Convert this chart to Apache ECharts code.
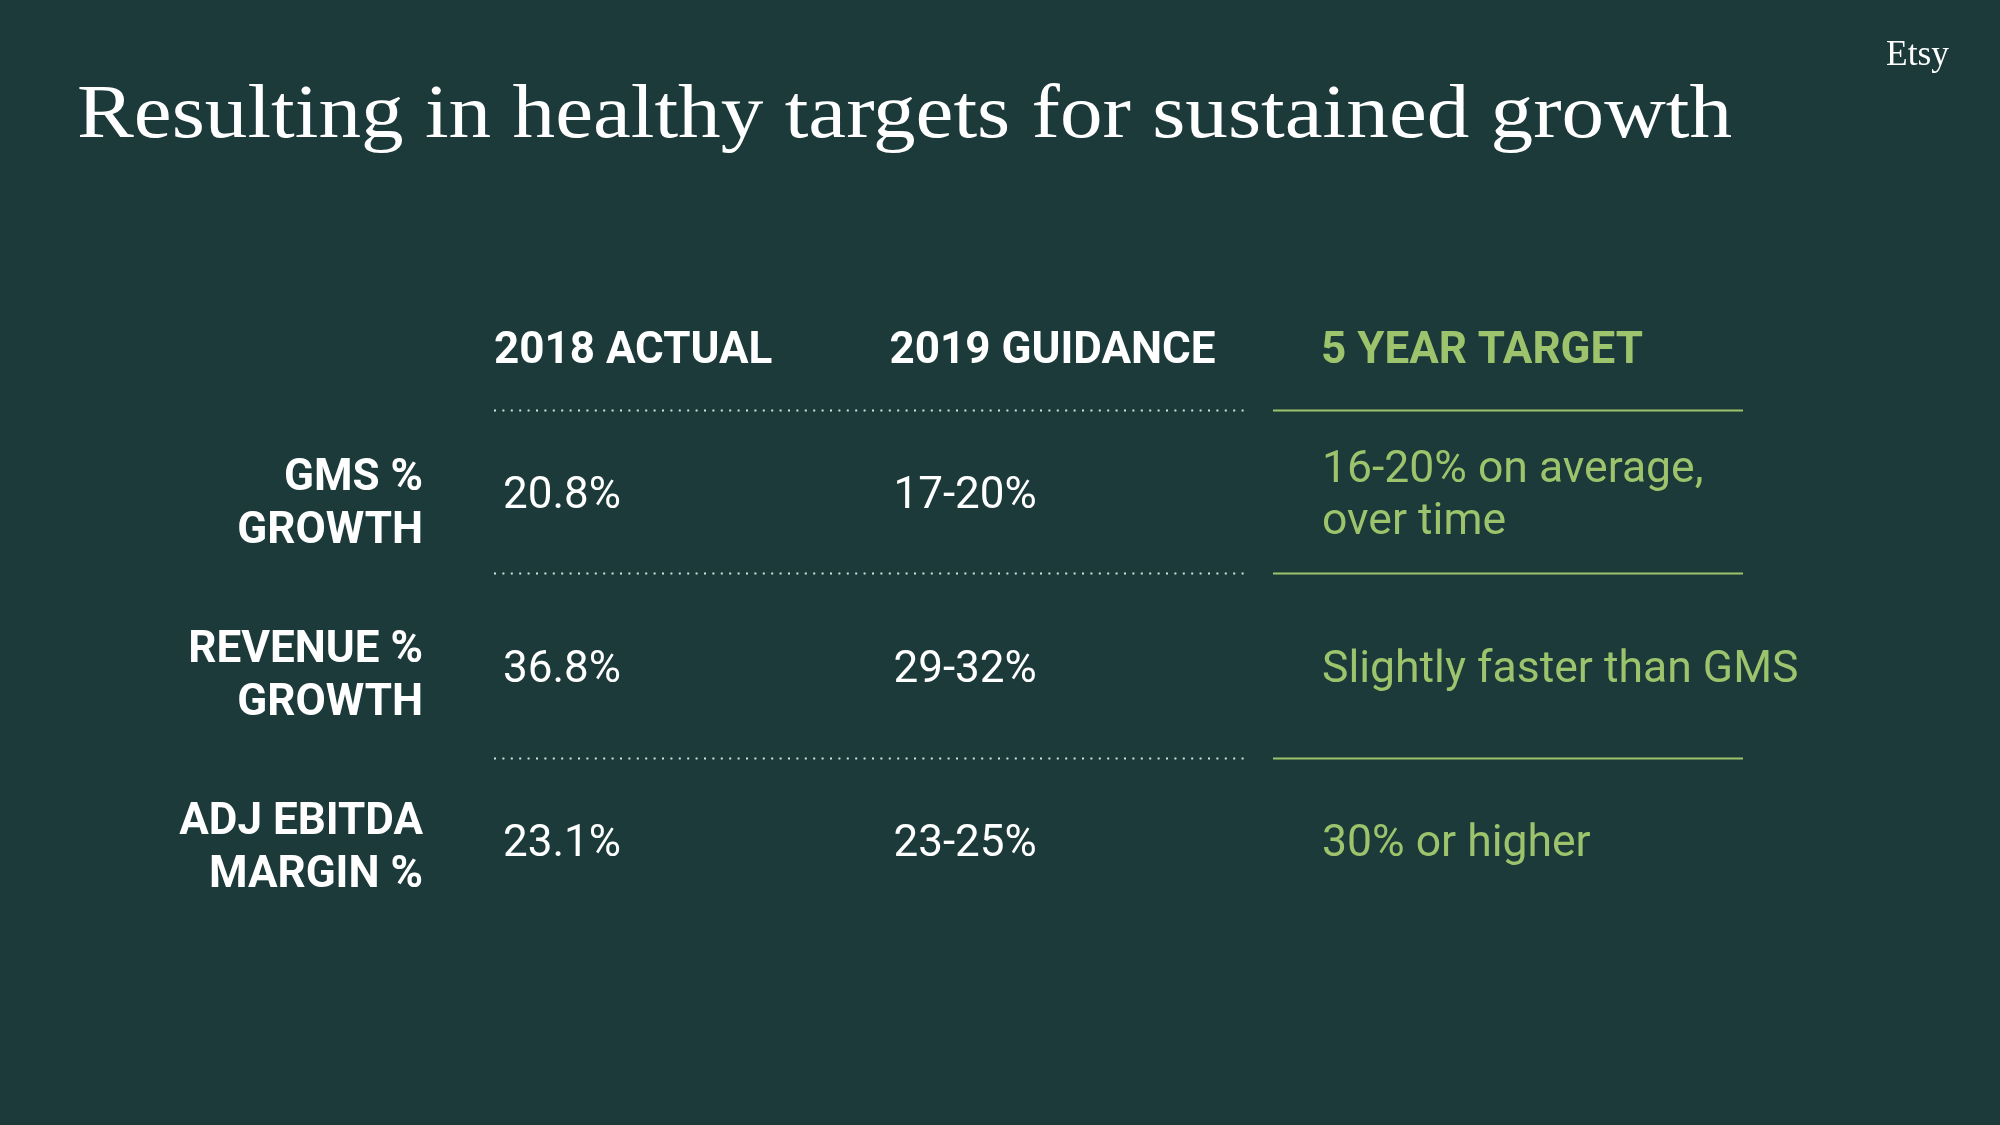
<!DOCTYPE html>
<html>
<head>
<meta charset="utf-8">
<script src="https://cdn.jsdelivr.net/npm/echarts@6/dist/echarts.min.js"></script>
<style>
  html, body { margin: 0; padding: 0; background: #1b3a39; }
  #chart { width: 2000px; height: 1125px; }
</style>
</head>
<body>
<div id="chart"></div>
<script>
// ---- data ----
const titleText = 'Resulting in healthy targets for sustained growth';
const brandText = 'Etsy';
const columns = ['2018 ACTUAL', '2019 GUIDANCE', '5 YEAR TARGET'];
const metrics = ['GMS %\nGROWTH', 'REVENUE %\nGROWTH', 'ADJ EBITDA\nMARGIN %'];
const actual2018 = ['20.8%', '36.8%', '23.1%'];
const guidance2019 = ['17-20%', '29-32%', '23-25%'];
const fiveYearTarget = ['16-20% on average,\nover time', 'Slightly faster than GMS', '30% or higher'];

// ---- styles ----
const BG = '#1b3a39';
const WHITE = '#ffffff';
const GREEN = '#9dc46c';
const DOT = '#d3e2df';
const SANS = 'Roboto';
const SERIF = 'Liberation Serif';

function fitScale(text, font, target) {
  const c = document.createElement('canvas').getContext('2d');
  c.font = font;
  return target / c.measureText(text).width;
}
const titleScale = fitScale(titleText, '77px "' + SERIF + '"', 1655);
const brandScale = fitScale(brandText, '36px "' + SERIF + '"', 63);

const columnValues = [actual2018, guidance2019, fiveYearTarget];
const cellData = [];
metrics.forEach((m, r) => {
  columnValues.forEach((vals, c) => cellData.push([c, r, vals[r]]));
});
const headerData = columns.map((c, i) => [i, 0, c]);
const ruleData = metrics.map((m, r) => [0, r]);
const rowLabelData = metrics.map((m, r) => [0, r, m]);

const headerDx = [0, -18, 0];
const valueDx = [9, -14, 1];
const ruleDy = [4, -7, 4];
const rowLabelDy = [12, 10, 8];

const chart = echarts.init(document.getElementById('chart'), null, { renderer: 'canvas' });
chart.setOption({
  backgroundColor: BG,
  animation: false,
  graphic: [
    {
      type: 'text', x: 77, y: 117, scaleX: titleScale,
      style: { text: titleText, fill: WHITE, fontSize: 77, fontFamily: SERIF, verticalAlign: 'middle', align: 'left' }
    },
    {
      type: 'text', x: 1886, y: 56, scaleX: brandScale,
      style: { text: brandText, fill: WHITE, fontSize: 36, fontFamily: SERIF, verticalAlign: 'middle', align: 'left' }
    }
  ],
  grid: { left: 494, right: 679, top: 406, bottom: 197, containLabel: false },
  xAxis: {
    type: 'category', data: columns, boundaryGap: false, show: false
  },
  yAxis: {
    type: 'category', data: metrics, inverse: true, boundaryGap: true, show: false
  },
  series: [
    {
      type: 'custom', name: 'rules', silent: true, clip: false,
      data: ruleData, encode: { x: 0, y: 1 },
      renderItem: function (params, api) {
        const r = api.value(1);
        const p0 = api.coord([0, r]);
        const p2 = api.coord([2, r]);
        const band = api.size([0, 1])[1];
        const y = Math.round(p0[1] - band / 2 + ruleDy[r]) + 0.5;
        return {
          type: 'group',
          children: [
            { type: 'line', shape: { x1: p0[0], y1: y, x2: p2[0] - 75, y2: y },
              style: { stroke: DOT, lineWidth: 2, lineDash: [2, 6.4] } },
            { type: 'line', shape: { x1: p2[0] - 48, y1: y, x2: p2[0] + 422, y2: y },
              style: { stroke: GREEN, lineWidth: 2 } }
          ]
        };
      }
    },
    {
      type: 'custom', name: 'headers', silent: true, clip: false,
      data: headerData, encode: { x: 0, y: 1 },
      renderItem: function (params, api) {
        const c = api.value(0);
        const p = api.coord([c, 0]);
        const band = api.size([0, 1])[1];
        return {
          type: 'text', x: p[0] + headerDx[c], y: p[1] - band * 0.81,
          style: {
            text: headerData[params.dataIndex][2], fill: c === 2 ? GREEN : WHITE,
            fontSize: 44, fontWeight: 'bold', fontFamily: SANS,
            align: 'left', verticalAlign: 'middle'
          }
        };
      }
    },
    {
      type: 'custom', name: 'rowLabels', silent: true, clip: false,
      data: rowLabelData, encode: { x: 0, y: 1 },
      renderItem: function (params, api) {
        const r = api.value(1);
        const p = api.coord([0, r]);
        return {
          type: 'text', x: p[0] - 71, y: p[1] + rowLabelDy[r],
          style: {
            text: rowLabelData[params.dataIndex][2], fill: WHITE,
            fontSize: 44, fontWeight: 'bold', fontFamily: SANS, lineHeight: 53,
            align: 'right', verticalAlign: 'middle'
          }
        };
      }
    },
    {
      type: 'custom', name: 'cells', silent: true, clip: false,
      data: cellData, encode: { x: 0, y: 1 },
      renderItem: function (params, api) {
        const c = api.value(0), r = api.value(1);
        const p = api.coord([c, r]);
        return {
          type: 'text', x: p[0] + valueDx[c], y: p[1] + 4,
          style: {
            text: cellData[params.dataIndex][2], fill: c === 2 ? GREEN : WHITE,
            fontSize: c === 2 ? 44.5 : 44, fontWeight: 'normal', fontFamily: SANS, lineHeight: 52,
            align: 'left', verticalAlign: 'middle'
          }
        };
      }
    }
  ]
});
</script>
</body>
</html>
